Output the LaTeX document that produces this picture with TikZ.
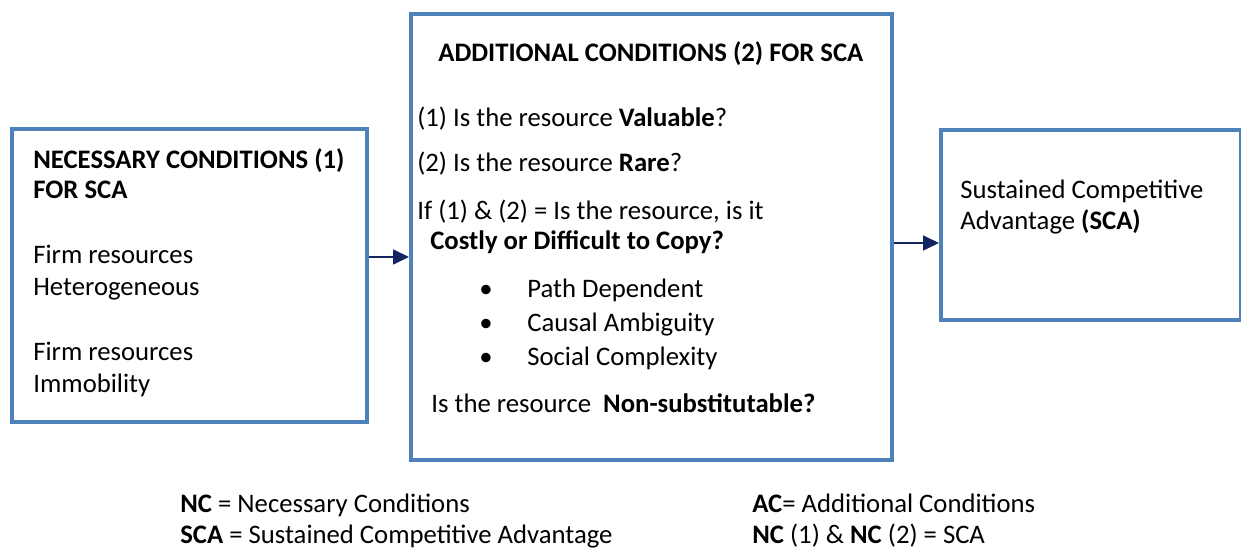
\documentclass[tikz,border=0pt]{standalone}
\usepackage{fontspec}
\setmainfont{Carlito}
\usetikzlibrary{arrows.meta}
\definecolor{BoxBlue}{RGB}{79,129,189}
\definecolor{ArrowNavy}{RGB}{20,36,96}
\begin{document}
\begin{tikzpicture}[x=0.02cm,y=-0.02cm,
	box/.style={draw=BoxBlue, line width=0.08cm},
	txt/.style={anchor=base west, inner sep=0pt, font=\fontsize{15.2pt}{18pt}\selectfont},
	link/.style={draw=ArrowNavy, line width=0.035cm, -{Triangle[length=0.32cm,width=0.3cm]}}]
	\useasboundingbox (0,0) rectangle (1241,550);
	
	% Boxes
	\node[box, minimum width=355*0.02cm, minimum height=293*0.02cm, anchor=north west] (NecBox) at (10,127) {};
	\node[box, minimum width=481*0.02cm, minimum height=446*0.02cm, anchor=north west] (AddBox) at (409,12) {};
	\node[box, minimum width=300*0.02cm, minimum height=190*0.02cm, anchor=north west] (SCABox) at (939,128) {};
	
	\coordinate (NecOut) at (NecBox.east |- 0,257);
	\coordinate (AddIn)  at (AddBox.west |- 0,257);
	\coordinate (AddOut) at (AddBox.east |- 0,243);
	\coordinate (SCAIn)  at (SCABox.west |- 0,243);
	\draw[link] (NecOut) -- (AddIn);% Necessary -> Additional
	\draw[link] (AddOut) -- (SCAIn);% Additional -> SCA
	
	% Necessary conditions
	\node[txt] (NecTitleA) at (33,169) {\textbf{NECESSARY CONDITIONS (1)}};
	\node[txt] (NecTitleB) at (33,199) {\textbf{FOR SCA}};
	\node[txt] (NecHetA) at (33,264) {Firm resources};
	\node[txt] (NecHetB) at (33,296) {Heterogeneous};
	\node[txt] (NecImmA) at (33,361) {Firm resources};
	\node[txt] (NecImmB) at (33,393) {Immobility};
	
	% Additional conditions
	\node[txt] (AddTitle) at (438,62) {\textbf{ADDITIONAL CONDITIONS (2) FOR SCA}};
	\node[txt] (AddValue) at (417,127) {(1) Is the resource \textbf{Valuable}?};
	\node[txt] (AddRare)  at (417,172) {(2) Is the resource \textbf{Rare}?};
	\node[txt] (AddCopyA) at (417,220) {If (1) \& (2) = Is the resource, is it};
	\node[txt] (AddCopyB) at (430,250) {\textbf{Costly or Difficult to Copy?}};
	\foreach \y/\name/\item in {298/Path/Path Dependent,332/Causal/Causal Ambiguity,366/Social/Social Complexity}{
		\node[txt] (Bul\name) at (479,\y) {\textbullet};
		\node[txt] (Item\name) at (527,\y) {\item};
	}
	\node[txt] (AddSubst) at (431,413) {Is the resource~ \textbf{Non-substitutable?}};
	
	% Sustained competitive advantage
	\node[txt] (SCAA) at (960,199) {Sustained Competitive};
	\node[txt] (SCAB) at (960,230) {Advantage \textbf{(SCA)}};
	
	% Legend
	\node[txt] (LegNC)  at (180,512) {\textbf{NC} = Necessary Conditions};
	\node[txt] (LegSCA) at (180,543) {\textbf{SCA} = Sustained Competitive Advantage};
	\node[txt] (LegAC)  at (752,512) {\textbf{AC}= Additional Conditions};
	\node[txt] (LegSum) at (752,543) {\textbf{NC} (1) \& \textbf{NC} (2) = SCA};
\end{tikzpicture}
\end{document}
